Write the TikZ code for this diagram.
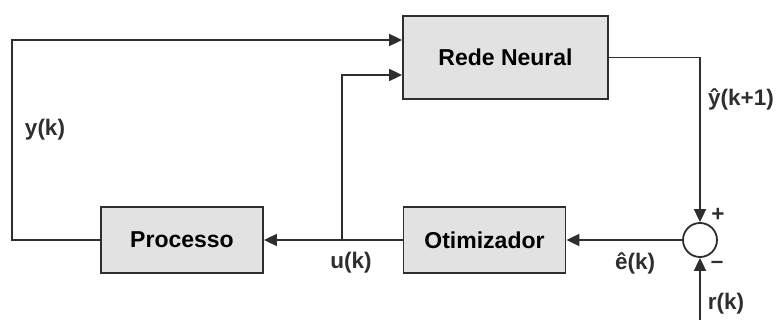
\documentclass[tikz,border=0pt]{standalone}
\usepackage{fontspec}
\setmainfont{Liberation Sans}
\usetikzlibrary{arrows.meta}
\definecolor{linegray}{HTML}{2E2E2E}
\definecolor{boxfill}{HTML}{E2E2E2}
\begin{document}
\begin{tikzpicture}[x=1pt,y=-1pt,
  blockbox/.style={draw=linegray,line width=1.8pt,fill=boxfill,minimum width=162pt,minimum height=66pt,inner sep=0pt,font=\bfseries\fontsize{23}{25}\selectfont},
  wire/.style={draw=linegray,line width=1.8pt},
  sig/.style={wire,-{Triangle[length=13pt,width=12pt]}},
  lbl/.style={font=\bfseries\fontsize{22.5}{24}\selectfont,text=linegray,inner sep=0pt}]
\useasboundingbox (0,0) rectangle (778,320);
% blocks
\node[blockbox,minimum width=205pt,minimum height=83pt] (rede) at (505.5,57.5) {Rede Neural};
\node[blockbox] (proc) at (182,240) {Processo};
\node[blockbox] (otim) at (484.5,240) {Otimizador};
\node[circle,draw=linegray,line width=1.8pt,fill=white,minimum size=34pt,inner sep=0pt] (sum) at (700,240) {};
% junction and free ends
\coordinate (uj) at (342,240);
\coordinate (rin) at (700,320);
\coordinate (yl) at (12,240);
% connectors
\draw[sig] (proc.west) -- (yl) |- ([yshift=17.5pt]rede.west);
\draw[sig] (uj) |- ([yshift=-17.5pt]rede.west);
\draw[sig] (otim.west) -- (proc.east);
\draw[sig] (rede.east) -| (sum.north);
\draw[sig] (sum.west) -- (otim.east);
\draw[sig] (rin) -- (sum.south);
% labels
\node[lbl] at (45,130) {y(k)};
\node[lbl] at (741,99) {ŷ(k+1)};
\node[lbl] at (351,263) {u(k)};
\node[lbl] at (635,263) {ê(k)};
\node[lbl] at (726,304) {r(k)};
\node[lbl] at (718,215) {+};
\node[lbl] at (717,265) {–};
\end{tikzpicture}
\end{document}
